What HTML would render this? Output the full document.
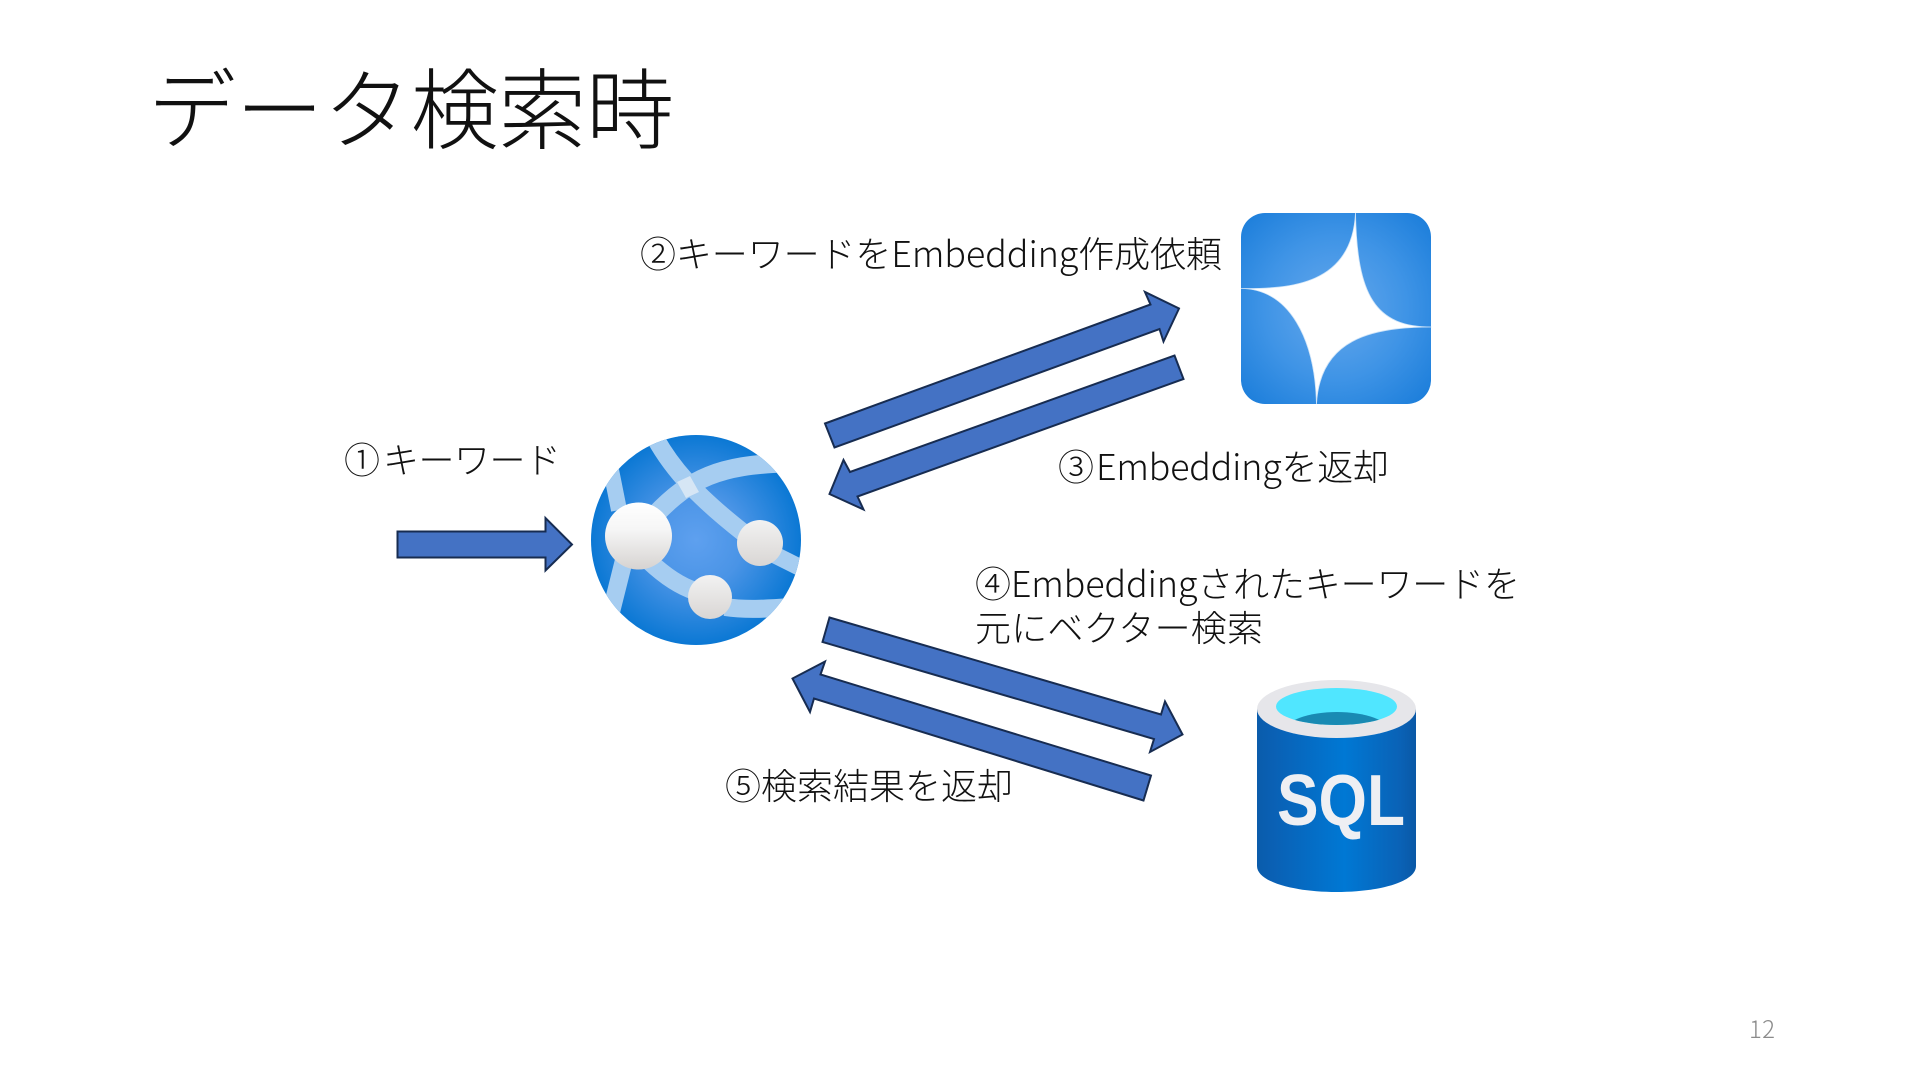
<!DOCTYPE html>
<html lang="ja">
<head>
<meta charset="utf-8">
<style>
html,body{margin:0;padding:0;background:#fff;width:1920px;height:1080px;overflow:hidden}
svg{display:block}
.t{font-family:"Noto Sans CJK JP","Liberation Sans",sans-serif;font-weight:300;fill:#111;font-size:36px}
.a{fill:#4472C4;stroke:#172C51;stroke-width:2;stroke-linejoin:miter}
</style>
</head>
<body>
<svg width="1920" height="1080" viewBox="0 0 1920 1080" xmlns="http://www.w3.org/2000/svg">
<defs>
<radialGradient id="g1" gradientUnits="userSpaceOnUse" cx="1335" cy="308" r="142">
<stop offset="0" stop-color="#66a8ec"/><stop offset=".5" stop-color="#3f94e6"/><stop offset="1" stop-color="#1479d8"/>
</radialGradient>
<radialGradient id="g2" gradientUnits="userSpaceOnUse" cx="696" cy="540" r="105">
<stop offset="0" stop-color="#5ea0ef"/><stop offset=".45" stop-color="#4a94e6"/><stop offset="1" stop-color="#0b78d4"/>
</radialGradient>
<linearGradient id="n" x1="0" y1="0" x2="0" y2="1">
<stop offset="0" stop-color="#fff"/><stop offset=".4" stop-color="#f6f6f6"/><stop offset="1" stop-color="#d6d3d1"/>
</linearGradient>
<linearGradient id="n2" x1="0" y1="0" x2="0" y2="1">
<stop offset="0" stop-color="#f2f2f2"/><stop offset="1" stop-color="#d9d6d4"/>
</linearGradient>
<linearGradient id="b" x1="0" y1="0" x2="1" y2="0">
<stop offset="0" stop-color="#0a5cab"/><stop offset=".1" stop-color="#0a60b4"/><stop offset=".55" stop-color="#0078d4"/><stop offset=".9" stop-color="#0a62b6"/><stop offset="1" stop-color="#0a58a6"/>
</linearGradient>
<clipPath id="c"><circle cx="696" cy="540" r="105"/></clipPath>
<clipPath id="i"><ellipse cx="1336.5" cy="706.5" rx="60.5" ry="18.5"/></clipPath>
</defs>

<!-- title -->
<text class="t" x="148" y="142" style="font-size:88px" textLength="526" lengthAdjust="spacing">データ検索時</text>

<!-- Gemini tile -->
<rect x="1241" y="213" width="190" height="191" rx="24" fill="url(#g1)"/>
<path d="M1355.5,213 C1357,295 1375,327 1431.5,327 C1370,327 1320,340 1316.5,404 C1315,340 1290,289 1241,288.5 C1290,289 1352,285 1355.5,213 Z" fill="#fff" stroke="#cfe4f8" stroke-width=".8"/>

<!-- Web app icon -->
<circle cx="696" cy="540" r="105" fill="url(#g2)"/>
<g clip-path="url(#c)" fill="none" stroke="#a6cdf1" stroke-linecap="butt">
<path d="M650,428 C668,465 695,495 745,534" stroke-width="18"/>
<path d="M655,515 C690,478 720,465 785,463" stroke-width="19"/>
<path d="M611,470 L619,510" stroke-width="16"/>
<path d="M624,560 L609,620" stroke-width="18"/>
<path d="M650,562 C665,576 680,586 695,591" stroke-width="18"/>
<path d="M725,607 C745,610 765,609 790,607" stroke-width="18"/>
<path d="M775,555 L805,570" stroke-width="17"/>
</g>
<polygon points="677,482 690,476 699,492 686,498" fill="#d6e6f5"/>
<circle cx="638.5" cy="536" r="33.5" fill="url(#n)"/>
<circle cx="760" cy="543" r="23" fill="url(#n2)"/>
<circle cx="710" cy="597" r="22" fill="url(#n2)"/>

<!-- SQL cylinder -->
<path d="M1257,709 V866 C1257,882 1294,892 1336.5,892 C1379,892 1416,882 1416,866 V709 Z" fill="url(#b)"/>
<ellipse cx="1336.5" cy="709" rx="79.5" ry="29" fill="#e6e6ea"/>
<ellipse cx="1336.5" cy="706.5" rx="60.5" ry="18.5" fill="#50e6ff"/>
<g clip-path="url(#i)"><ellipse cx="1337" cy="731" rx="52" ry="19" fill="#198ab3"/></g>
<text x="1277" y="825" textLength="128" lengthAdjust="spacingAndGlyphs" style="font-family:'Liberation Sans',sans-serif;font-weight:700;font-size:72px" fill="#eeeff3">SQL</text>

<!-- arrows -->
<polygon class="a" points="397.5,531.5 545.5,531.5 545.5,518 572,544.5 545.5,570.5 545.5,557.5 397.5,557.5"/>
<polygon class="a" points="825,423.5 1150.5,304.5 1145,292 1179,308.5 1163.5,341.5 1159.5,329 834.5,447.5"/>
<polygon class="a" points="1174.5,355.5 1183.5,379 857.5,496.5 863.5,509.5 829.5,494 843.5,460 850,472"/>
<polygon class="a" points="829.5,617.5 1161,714.5 1165,701.5 1182.5,734.5 1150,752 1154,739 822.5,642"/>
<polygon class="a" points="1151,775.5 1143.5,800.5 814,698.5 810,712 792.5,678.5 825,661.5 820.5,674.5"/>

<!-- labels -->
<text class="t" x="344" y="473">①</text>
<text class="t" x="383" y="473" textLength="178" lengthAdjust="spacing">キーワード</text>
<text class="t" x="640" y="267" textLength="582" lengthAdjust="spacing">②キーワードをEmbedding作成依頼</text>
<text class="t" x="1058" y="480">③</text>
<text class="t" x="1096" y="480" textLength="293" lengthAdjust="spacing">Embeddingを返却</text>
<text class="t" x="975" y="597" textLength="545" lengthAdjust="spacing">④Embeddingされたキーワードを</text>
<text class="t" x="975" y="641" textLength="288" lengthAdjust="spacing">元にベクター検索</text>
<text class="t" x="725" y="799" textLength="288" lengthAdjust="spacing">⑤検索結果を返却</text>

<text x="1749" y="1038" textLength="26" style="font-family:'Noto Sans CJK JP','Liberation Sans',sans-serif;font-weight:300;font-size:24px" fill="#8b8b8b">12</text>
</svg>
</body>
</html>
